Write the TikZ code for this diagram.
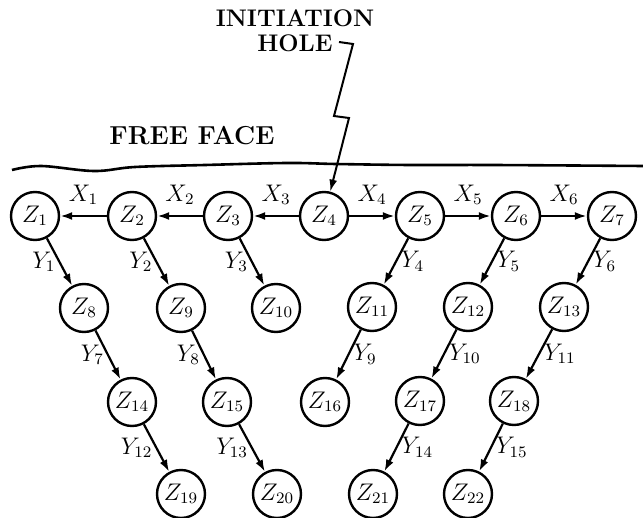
\documentclass[tikz,border=0pt]{standalone}
\usepackage{fontspec}
\usetikzlibrary{arrows.meta}
\begin{document}
\begin{tikzpicture}[x=0.5pt,y=-0.5pt,
  zn/.style={circle, draw, line width=1.2pt, minimum size=24pt, inner sep=0pt, font=\fontsize{11.5}{13}\selectfont},
  arr/.style={line width=1.1pt, -{Latex[length=6pt,width=4pt]}},
  lab/.style={font=\fontsize{11.5}{13}\selectfont, inner sep=1pt},
  boldtxt/.style={font=\fontsize{12}{14}\selectfont\bfseries, inner sep=0pt}]
\useasboundingbox (0,0) rectangle (643,518);
% row 1
\node[zn] (z1) at (35,216) {$Z_{1}$};
\node[zn] (z2) at (132,216) {$Z_{2}$};
\node[zn] (z3) at (228,216) {$Z_{3}$};
\node[zn] (z4) at (324,216) {$Z_{4}$};
\node[zn] (z5) at (420,216) {$Z_{5}$};
\node[zn] (z6) at (516,216) {$Z_{6}$};
\node[zn] (z7) at (612,216) {$Z_{7}$};
% row 2
\node[zn] (z8) at (84,308) {$Z_{8}$};
\node[zn] (z9) at (181,308) {$Z_{9}$};
\node[zn] (z10) at (276,308) {$Z_{10}$};
\node[zn] (z11) at (372,307) {$Z_{11}$};
\node[zn] (z12) at (468,307) {$Z_{12}$};
\node[zn] (z13) at (564,307) {$Z_{13}$};
% row 3
\node[zn] (z14) at (132,402) {$Z_{14}$};
\node[zn] (z15) at (227,402) {$Z_{15}$};
\node[zn] (z16) at (325,402) {$Z_{16}$};
\node[zn] (z17) at (420,401) {$Z_{17}$};
\node[zn] (z18) at (514,401) {$Z_{18}$};
% row 4
\node[zn] (z19) at (181,494) {$Z_{19}$};
\node[zn] (z20) at (277,494) {$Z_{20}$};
\node[zn] (z21) at (373,494) {$Z_{21}$};
\node[zn] (z22) at (468,494) {$Z_{22}$};
% X edges
\draw[arr] (z2) -- node[lab,above=4pt]{$X_{1}$} (z1);
\draw[arr] (z3) -- node[lab,above=4pt]{$X_{2}$} (z2);
\draw[arr] (z4) -- node[lab,above=4pt]{$X_{3}$} (z3);
\draw[arr] (z4) -- node[lab,above=4pt]{$X_{4}$} (z5);
\draw[arr] (z5) -- node[lab,above=4pt]{$X_{5}$} (z6);
\draw[arr] (z6) -- node[lab,above=4pt]{$X_{6}$} (z7);
% Y edges
\draw[arr] (z1) -- node[lab,left=0.5pt]{$Y_{1}$} (z8);
\draw[arr] (z2) -- node[lab,left=0.5pt]{$Y_{2}$} (z9);
\draw[arr] (z3) -- node[lab,left=0.5pt]{$Y_{3}$} (z10);
\draw[arr] (z5) -- node[lab,right=1pt]{$Y_{4}$} (z11);
\draw[arr] (z6) -- node[lab,right=1pt]{$Y_{5}$} (z12);
\draw[arr] (z7) -- node[lab,right=1pt]{$Y_{6}$} (z13);
\draw[arr] (z8) -- node[lab,left=0.5pt]{$Y_{7}$} (z14);
\draw[arr] (z9) -- node[lab,left=0.5pt]{$Y_{8}$} (z15);
\draw[arr] (z11) -- node[lab,right=1pt]{$Y_{9}$} (z16);
\draw[arr] (z12) -- node[lab,right=1pt]{$Y_{10}$} (z17);
\draw[arr] (z13) -- node[lab,right=1pt]{$Y_{11}$} (z18);
\draw[arr] (z14) -- node[lab,left=0.5pt]{$Y_{12}$} (z19);
\draw[arr] (z15) -- node[lab,left=0.5pt]{$Y_{13}$} (z20);
\draw[arr] (z17) -- node[lab,right=1pt]{$Y_{14}$} (z21);
\draw[arr] (z18) -- node[lab,right=1pt]{$Y_{15}$} (z22);
% free face
\draw[line width=1.3pt] plot[smooth, tension=0.6] coordinates {(12,170) (41,166) (94,171) (135,167) (205,165) (287,163) (336,164) (410,165) (492,165) (643,166)};
\node[boldtxt, font=\fontsize{13}{15}\selectfont\bfseries\addfontfeature{LetterSpace=5}, anchor=base west] (ff) at (109,145) {FREE FACE};
% initiation hole
\node[boldtxt, anchor=base] (init) at (295,27) {INITIATION};
\node[boldtxt, anchor=base] (hole) at (295,52) {HOLE};
\coordinate (hk) at (339,42);
\draw[arr, line width=1pt] (hk) -- (353,44) -- (334,116) -- (349,118) -- (z4);
\end{tikzpicture}
\end{document}
